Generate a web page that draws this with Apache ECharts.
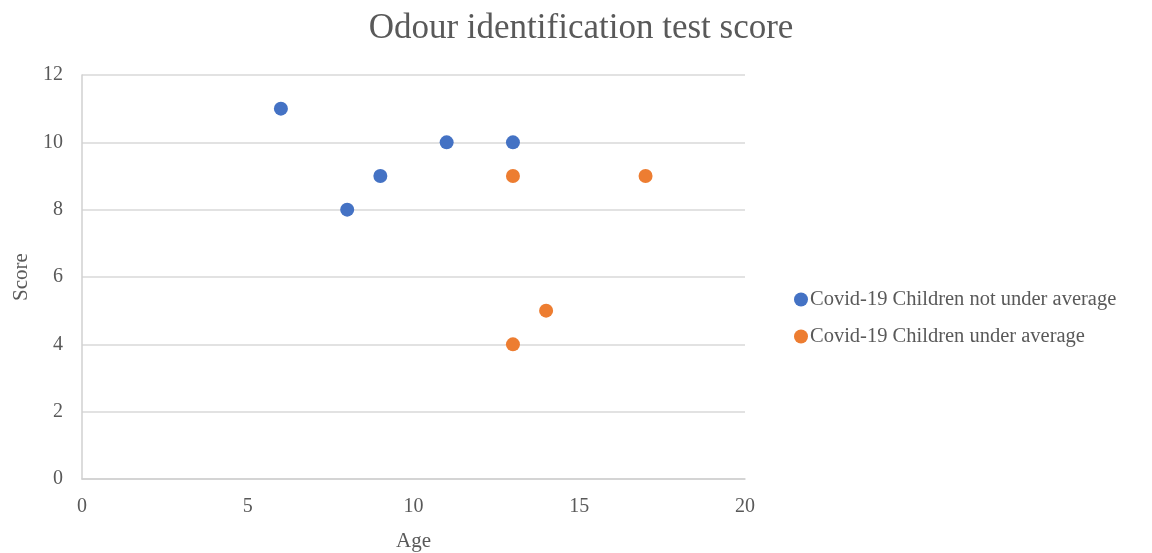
<!DOCTYPE html>
<html>
<head>
<meta charset="utf-8" />
<title>Odour identification test score</title>
<script src="https://cdn.jsdelivr.net/npm/echarts@6/dist/echarts.min.js"></script>
<style>
  html, body { margin: 0; padding: 0; background: #fff; }
  #chart { width: 1152px; height: 553px; }
</style>
</head>
<body>
<div id="chart"></div>
<script>
// data: [age, score]
var notUnderAvg = [[6, 11], [8, 8], [9, 9], [11, 10], [13, 10]];
var underAvg = [[13, 9], [17, 9], [14, 5], [13, 4]];
var seriesNames = ["Covid-19 Children not under average", "Covid-19 Children under average"];

var font = "Liberation Serif";
var textColor = "#595959";

var chart = echarts.init(document.getElementById("chart"));
chart.setOption({
    animation: false,
    title: {
        text: "Odour identification test score",
        left: 576,
        top: 6,
        textAlign: "center",
        textStyle: { fontFamily: font, fontSize: 35, fontWeight: "normal", color: textColor }
    },
    legend: {
        orient: "vertical",
        left: 789,
        top: 284,
        itemGap: 16,
        itemWidth: 14,
        itemHeight: 14,
        icon: "circle",
        textStyle: { fontFamily: font, fontSize: 20.5, color: textColor, padding: [0, 0, 0, -3] },
        data: seriesNames
    },
    grid: { left: 82, top: 75, width: 663, height: 404, outerBoundsMode: "none" },
    xAxis: {
        type: "value",
        min: 0, max: 20, interval: 5,
        name: "Age",
        nameLocation: "middle",
        nameGap: 52,
        nameTextStyle: { fontFamily: font, fontSize: 21, color: textColor },
        axisLine: { show: true, lineStyle: { color: "#d0d0d0", width: 1.5 } },
        axisTick: { show: false },
        splitLine: { show: false },
        axisLabel: { fontFamily: font, fontSize: 20, color: textColor, margin: 18 }
    },
    yAxis: {
        type: "value",
        min: 0, max: 12, interval: 2,
        name: "Score",
        nameLocation: "middle",
        nameGap: 50,
        nameTextStyle: { fontFamily: font, fontSize: 21, color: textColor },
        axisLine: { show: true, lineStyle: { color: "#d0d0d0", width: 1.5 } },
        axisTick: { show: false },
        splitLine: { show: true, lineStyle: { color: "#d9d9d9", width: 1.5 } },
        axisLabel: { fontFamily: font, fontSize: 20, color: textColor, margin: 19 }
    },
    series: [
        {
            name: seriesNames[0],
            type: "scatter",
            symbolSize: 14,
            itemStyle: { color: "#4472C4", opacity: 1 },
            data: notUnderAvg
        },
        {
            name: seriesNames[1],
            type: "scatter",
            symbolSize: 14,
            itemStyle: { color: "#ED7D31", opacity: 1 },
            data: underAvg
        }
    ]
});
</script>
</body>
</html>
